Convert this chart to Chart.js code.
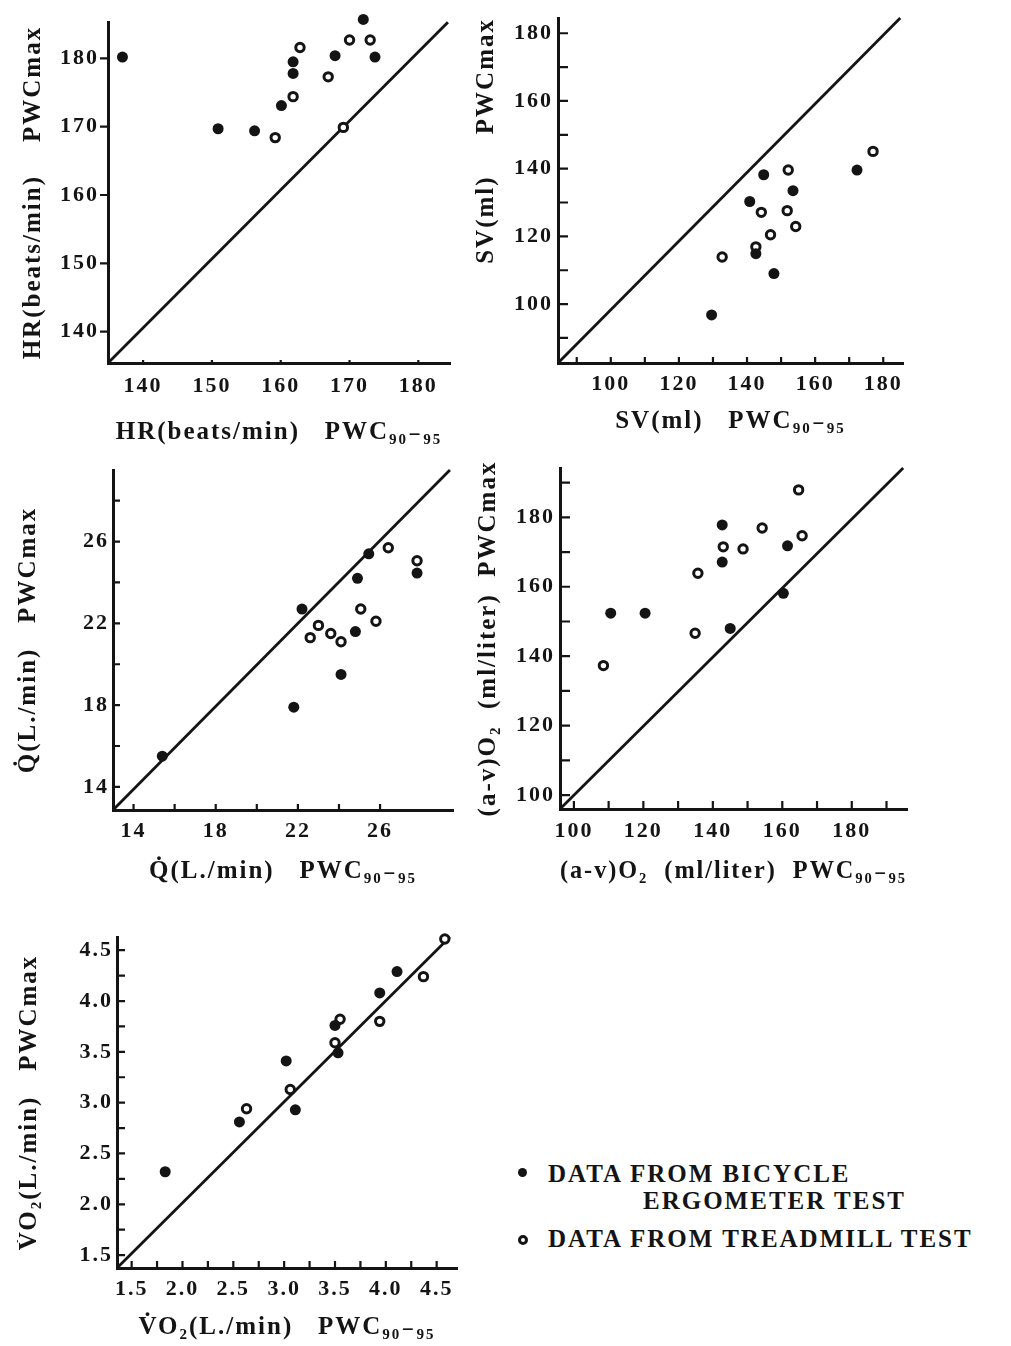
<!DOCTYPE html>
<html>
<head>
<meta charset="utf-8">
<script src="https://cdn.jsdelivr.net/npm/chart.js@4.4.1/dist/chart.umd.min.js"></script>
<style>
  body { margin: 0; background: #fff; width: 1011px; height: 1346px; position: relative; overflow: hidden; }
  canvas { position: absolute; }
  .key { position: absolute; font: bold 25px "Liberation Serif", serif; letter-spacing: 2px; color: #141414; white-space: nowrap; line-height: 28px; }
  .dot { position: absolute; border-radius: 50%; box-sizing: border-box; }
</style>
</head>
<body>
<canvas id="hr"></canvas>
<canvas id="sv"></canvas>
<canvas id="q"></canvas>
<canvas id="av"></canvas>
<canvas id="vo2"></canvas>

<div class="dot" style="left:518px;top:1168px;width:9px;height:9px;background:#141414"></div>
<div class="key" style="left:548px;top:1160px">DATA FROM BICYCLE</div>
<div class="key" style="left:643px;top:1187px">ERGOMETER TEST</div>
<div class="dot" style="left:518px;top:1235px;width:10px;height:10px;border:3.5px solid #141414;background:#fff"></div>
<div class="key" style="left:548px;top:1225px">DATA FROM TREADMILL TEST</div>

<script>
// values
// filled dots = bicycle ergometer, open rings = treadmill

// HR (beats/min)
const hrBicycleX = [137.0, 150.9, 156.2, 160.1, 161.8, 161.8, 167.9, 172.0, 173.7];
const hrBicycleY = [180.2, 169.7, 169.4, 173.1, 179.5, 177.8, 180.4, 185.7, 180.2];
const hrTreadmillX = [159.2, 161.8, 162.8, 166.9, 169.1, 170.0, 173.0];
const hrTreadmillY = [168.4, 174.4, 181.6, 177.3, 169.9, 182.7, 182.7];
const hrTicks = [140, 150, 160, 170, 180];
const hrLabels = [140, 150, 160, 170, 180];
const hrRangeX = [134.9, 184.6];
const hrRangeY = [135.4, 185.3];
const hrLineX = [134.9, 184.3];
const hrLineY = [135.4, 185.3];

// SV (ml)
const svBicycleX = [129.6, 140.8, 142.6, 144.9, 147.9, 153.5, 172.3];
const svBicycleY = [96.8, 130.3, 114.9, 138.2, 109.0, 133.5, 139.6];
const svTreadmillX = [132.7, 142.6, 144.2, 146.9, 151.8, 152.1, 154.3, 177.0];
const svTreadmillY = [113.9, 116.9, 127.1, 120.5, 127.6, 139.6, 122.9, 145.1];
const svTicks = [90, 100, 110, 120, 130, 140, 150, 160, 170, 180];
const svLabels = [100, 120, 140, 160, 180];
const svRangeX = [84.5, 185.8];
const svRangeY = [82.6, 184.5];
const svLineX = [84.5, 185.0];
const svLineY = [82.6, 184.5];

// cardiac output Q (L/min)
const qBicycleX = [15.4, 21.8, 22.2, 24.1, 24.8, 24.9, 25.45, 27.8];
const qBicycleY = [15.5, 17.9, 22.7, 19.5, 21.6, 24.2, 25.4, 24.46];
const qTreadmillX = [22.6, 23.0, 23.6, 24.1, 25.06, 25.8, 26.4, 27.8];
const qTreadmillY = [21.3, 21.9, 21.5, 21.1, 22.7, 22.1, 25.7, 25.06];
const qTicksX = [14, 16, 18, 20, 22, 24, 26];
const qTicksY = [14, 16, 18, 20, 22, 24, 26, 28];
const qLabels = [14, 18, 22, 26];
const qRangeX = [13.0, 29.55];
const qRangeY = [12.87, 29.5];
const qLineX = [13.0, 29.4];
const qLineY = [12.87, 29.5];

// (a-v)O2 (ml/liter)
const avBicycleX = [110.6, 120.5, 142.7, 142.7, 145.0, 160.3, 161.5];
const avBicycleY = [152.4, 152.4, 177.8, 167.1, 148.0, 158.1, 171.8];
const avTreadmillX = [108.5, 134.9, 135.7, 143.0, 148.7, 154.2, 164.7, 165.7];
const avTreadmillY = [137.3, 146.6, 163.9, 171.5, 170.9, 176.9, 187.9, 174.7];
const avTicks = [100, 110, 120, 130, 140, 150, 160, 170, 180, 190];
const avLabels = [100, 120, 140, 160, 180];
const avRangeX = [96.0, 195.9];
const avRangeY = [96.0, 194.2];
const avLineX = [96.0, 194.8];
const avLineY = [96.0, 194.2];

// VO2 (L/min)
const vo2BicycleX = [1.83, 2.56, 3.02, 3.11, 3.50, 3.53, 3.94, 4.11];
const vo2BicycleY = [2.32, 2.81, 3.41, 2.93, 3.76, 3.49, 4.08, 4.29];
const vo2TreadmillX = [2.63, 3.06, 3.55, 3.50, 3.94, 4.37, 4.58];
const vo2TreadmillY = [2.94, 3.13, 3.82, 3.59, 3.80, 4.24, 4.61];
const vo2Ticks = [1.5, 1.75, 2.0, 2.25, 2.5, 2.75, 3.0, 3.25, 3.5, 3.75, 4.0, 4.25, 4.5];
const vo2Labels = [1.5, 2.0, 2.5, 3.0, 3.5, 4.0, 4.5];
const vo2RangeX = [1.356, 4.70];
const vo2RangeY = [1.373, 4.63];
const vo2LineX = [1.356, 4.63];
const vo2LineY = [1.373, 4.63];

const INK = '#141414';
const FONT = '"Liberation Serif", "DejaVu Serif", serif';
const TITLE_SIZE = 25;
const Y_W = 100, X_H = 100, PAD_T = 20, PAD_R = 30;

function pts(xs, ys) {
    return xs.map((x, i) => ({ x: x, y: ys[i] }));
}

// little tick marks, inside or outside the axes, like the print
const tickMarks = {
    id: 'tickMarks',
    beforeDraw(chart) {
        chart.ctx.letterSpacing = '2px';
    },
    afterDraw(chart, args, opts) {
        const { ctx, scales: { x, y } } = chart;
        ctx.save();
        ctx.strokeStyle = INK;
        ctx.lineWidth = 2.2;
        ctx.beginPath();
        x.ticks.forEach(t => {
            const px = x.getPixelForValue(t.value);
            ctx.moveTo(px, y.bottom);
            ctx.lineTo(px, y.bottom - opts.xLen);
        });
        y.ticks.forEach(t => {
            const py = y.getPixelForValue(t.value);
            ctx.moveTo(x.left, py);
            ctx.lineTo(x.left + opts.yLen, py);
        });
        ctx.stroke();
        ctx.restore();
    }
};

function makePanel(id, box, d) {
    const canvas = document.getElementById(id);
    const w = (box.r - box.l) + Y_W + PAD_R;
    const h = (box.b - box.t) + PAD_T + X_H;
    canvas.width = w;
    canvas.height = h;
    canvas.style.left = (box.l - Y_W) + 'px';
    canvas.style.top = (box.t - PAD_T) + 'px';

    const lh = TITLE_SIZE * 1.2;
    const yTitlePad = box.yTitleX - box.l + Y_W - lh / 2;
    const xTitlePad = box.b + X_H - lh / 2 - box.xTitleY;

    const axis = (range, ticks, labels, fmt, title, isY) => ({
        type: 'linear',
        position: isY ? 'left' : 'bottom',
        min: range[0],
        max: range[1],
        afterBuildTicks: s => { s.ticks = ticks.map(v => ({ value: v })); },
        afterFit: s => { if (isY) s.width = Y_W; else s.height = X_H; },
        grid: { display: false, drawTicks: false },
        border: { display: true, color: INK, width: 3 },
        ticks: {
            autoSkip: false,
            maxRotation: 0,
            color: INK,
            padding: isY ? box.yLabelPad : box.xLabelPad,
            font: { family: FONT, size: 22, weight: 'bold' },
            callback: v => labels.includes(v) ? fmt(v) : ''
        },
        title: {
            display: true,
            text: title,
            color: INK,
            align: isY ? (box.yAlign || 'center') : 'center',
            font: { family: FONT, size: TITLE_SIZE, weight: 'bold' },
            padding: isY ? { top: yTitlePad, bottom: 0 } : { top: 0, bottom: xTitlePad }
        }
    });

    return new Chart(canvas, {
        type: 'scatter',
        data: {
            datasets: [
                {
                    label: 'bicycle',
                    data: pts(d.bx, d.by),
                    pointRadius: 5.5,
                    pointBackgroundColor: INK,
                    pointBorderWidth: 0,
                    clip: false
                },
                {
                    label: 'treadmill',
                    data: pts(d.tx, d.ty),
                    pointRadius: 4.2,
                    pointBackgroundColor: '#fff',
                    pointBorderColor: INK,
                    pointBorderWidth: 3,
                    clip: false
                },
                {
                    type: 'line',
                    label: 'identity',
                    data: pts(d.lx, d.ly),
                    borderColor: INK,
                    borderWidth: 2.8,
                    pointRadius: 0,
                    fill: false,
                    clip: false
                }
            ]
        },
        options: {
            responsive: false,
            animation: false,
            events: [],
            layout: { padding: { top: PAD_T, right: PAD_R, left: 0, bottom: 0 } },
            plugins: {
                legend: { display: false },
                tooltip: { enabled: false },
                tickMarks: { xLen: box.xTick, yLen: box.yTick }
            },
            scales: {
                x: axis(d.rx, d.ticksX, d.labels, d.fmt, d.xTitle, false),
                y: axis(d.ry, d.ticksY, d.labels, d.fmt, d.yTitle, true)
            }
        },
        plugins: [tickMarks]
    });
}

const whole = v => String(v);
const oneDp = v => v.toFixed(1);

makePanel('hr',
    { l: 108, t: 20, r: 450, b: 363, yTitleX: 34, xTitleY: 433, yLabelPad: 9, xLabelPad: 10, xTick: 3, yTick: -8 },
    { bx: hrBicycleX, by: hrBicycleY, tx: hrTreadmillX, ty: hrTreadmillY, lx: hrLineX, ly: hrLineY,
      rx: hrRangeX, ry: hrRangeY, ticksX: hrTicks, ticksY: hrTicks, labels: hrLabels, fmt: whole,
      yTitle: 'HR(beats/min)    PWCmax', xTitle: 'HR(beats/min)   PWC₉₀₋₉₅' });

makePanel('sv',
    { l: 558, t: 18, r: 903, b: 363, yTitleX: 487, xTitleY: 422, yLabelPad: 5, xLabelPad: 8, xTick: 6, yTick: 10, yAlign: 'end' },
    { bx: svBicycleX, by: svBicycleY, tx: svTreadmillX, ty: svTreadmillY, lx: svLineX, ly: svLineY,
      rx: svRangeX, ry: svRangeY, ticksX: svTicks, ticksY: svTicks, labels: svLabels, fmt: whole,
      yTitle: 'SV(ml)     PWCmax', xTitle: 'SV(ml)   PWC₉₀₋₉₅' });

makePanel('q',
    { l: 113, t: 470, r: 453, b: 810, yTitleX: 29, xTitleY: 872, yLabelPad: 4, xLabelPad: 8, xTick: 6, yTick: 7 },
    { bx: qBicycleX, by: qBicycleY, tx: qTreadmillX, ty: qTreadmillY, lx: qLineX, ly: qLineY,
      rx: qRangeX, ry: qRangeY, ticksX: qTicksX, ticksY: qTicksY, labels: qLabels, fmt: whole,
      yTitle: 'Q̇(L./min)   PWCmax', xTitle: 'Q̇(L./min)   PWC₉₀₋₉₅' });

makePanel('av',
    { l: 560, t: 468, r: 907, b: 809, yTitleX: 489, xTitleY: 872, yLabelPad: 5, xLabelPad: 9, xTick: 8, yTick: 10 },
    { bx: avBicycleX, by: avBicycleY, tx: avTreadmillX, ty: avTreadmillY, lx: avLineX, ly: avLineY,
      rx: avRangeX, ry: avRangeY, ticksX: avTicks, ticksY: avTicks, labels: avLabels, fmt: whole,
      yTitle: '(a-v)O₂  (ml/liter)  PWCmax', xTitle: '(a-v)O₂  (ml/liter)  PWC₉₀₋₉₅' });

makePanel('vo2',
    { l: 117, t: 937, r: 457, b: 1268, yTitleX: 30, xTitleY: 1328, yLabelPad: 4, xLabelPad: 8, xTick: 7, yTick: 8 },
    { bx: vo2BicycleX, by: vo2BicycleY, tx: vo2TreadmillX, ty: vo2TreadmillY, lx: vo2LineX, ly: vo2LineY,
      rx: vo2RangeX, ry: vo2RangeY, ticksX: vo2Ticks, ticksY: vo2Ticks, labels: vo2Labels, fmt: oneDp,
      yTitle: 'V̇O₂(L./min)   PWCmax', xTitle: 'V̇O₂(L./min)   PWC₉₀₋₉₅' });
</script>
</body>
</html>
